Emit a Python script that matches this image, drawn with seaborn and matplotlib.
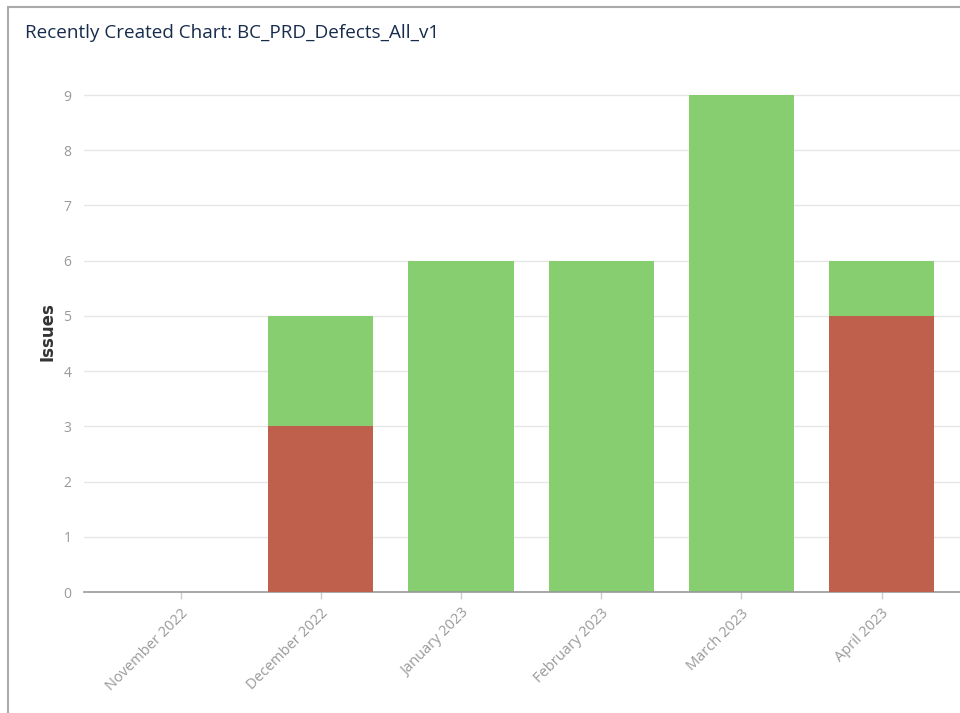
import matplotlib
matplotlib.use("Agg")
import matplotlib.pyplot as plt
import seaborn as sns
import pandas as pd
from matplotlib.lines import Line2D

months = ["November 2022", "December 2022", "January 2023", "February 2023", "March 2023", "April 2023"]
red_values = [0, 3, 0, 0, 0, 5]
green_values = [0, 2, 6, 6, 9, 1]
y_ticks = [0, 1, 2, 3, 4, 5, 6, 7, 8, 9]
title = "Recently Created Chart: BC_PRD_Defects_All_v1"
y_label = "Issues"

sns.set_theme(style="white")
plt.rcParams['font.family'] = ['DejaVu Sans']

df = pd.DataFrame({"month": months, "red": red_values, "green": green_values})
df["total"] = df["red"] + df["green"]

W, H = 960, 713
fig = plt.figure(figsize=(W / 100, H / 100), dpi=100)
left_px, right_px, bottom_px, top_px = 84, 960, 592, 67.4
ax = fig.add_axes([left_px / W, 1 - bottom_px / H, (right_px - left_px) / W, (bottom_px - top_px) / H])

green_c = "#87CE70"
red_c = "#BF604D"

sns.barplot(data=df, x="month", y="total", color=green_c, saturation=1, width=0.75, ax=ax,
            zorder=2, linewidth=0)
sns.barplot(data=df, x="month", y="red", color=red_c, saturation=1, width=0.75, ax=ax,
            zorder=3, linewidth=0)

ax.set_xlim(-0.69, 5.56)
ax.set_ylim(0, 9.5)
ax.set_yticks(y_ticks)
ax.set_yticklabels([str(t) for t in y_ticks], color="#999999", fontsize=10,
                   family=["Open Sans", "DejaVu Sans"])
ax.tick_params(axis="y", length=0, pad=9)
ax.yaxis.grid(True, color="#e6e6e6", linewidth=1, zorder=0)
ax.set_axisbelow(True)

ax.set_xticks(range(len(months)))
ax.set_xticklabels(months, rotation=45, ha="right", rotation_mode="anchor", color="#999999",
                   fontsize=10.5, family=["Open Sans", "DejaVu Sans"])
ax.tick_params(axis="x", length=5, width=1, color="#cccccc", pad=5, direction="out", bottom=True)

for s in ["top", "right", "left"]:
    ax.spines[s].set_visible(False)
ax.spines["bottom"].set_color("#999999")
ax.spines["bottom"].set_linewidth(1.2)

ax.set_xlabel("")
ax.set_ylabel("")
fig.text(48 / W, 1 - 332 / H, y_label, fontsize=12, color="#333333", rotation=90,
         ha="center", va="center", fontweight="semibold", family=["DejaVu Sans"])

fig.text(25 / W, 1 - 33 / H, title, fontsize=13.6, color="#172B4D", ha="left", va="center",
         family=["Open Sans", "DejaVu Sans"])

# frame border
fig.add_artist(Line2D([8 / W, 1], [1 - 7 / H, 1 - 7 / H], transform=fig.transFigure, color="#aaaaaa", linewidth=1.5))
fig.add_artist(Line2D([8 / W, 8 / W], [0, 1 - 7 / H], transform=fig.transFigure, color="#aaaaaa", linewidth=1.5))

fig.savefig("out.png", dpi=100, facecolor="white")
